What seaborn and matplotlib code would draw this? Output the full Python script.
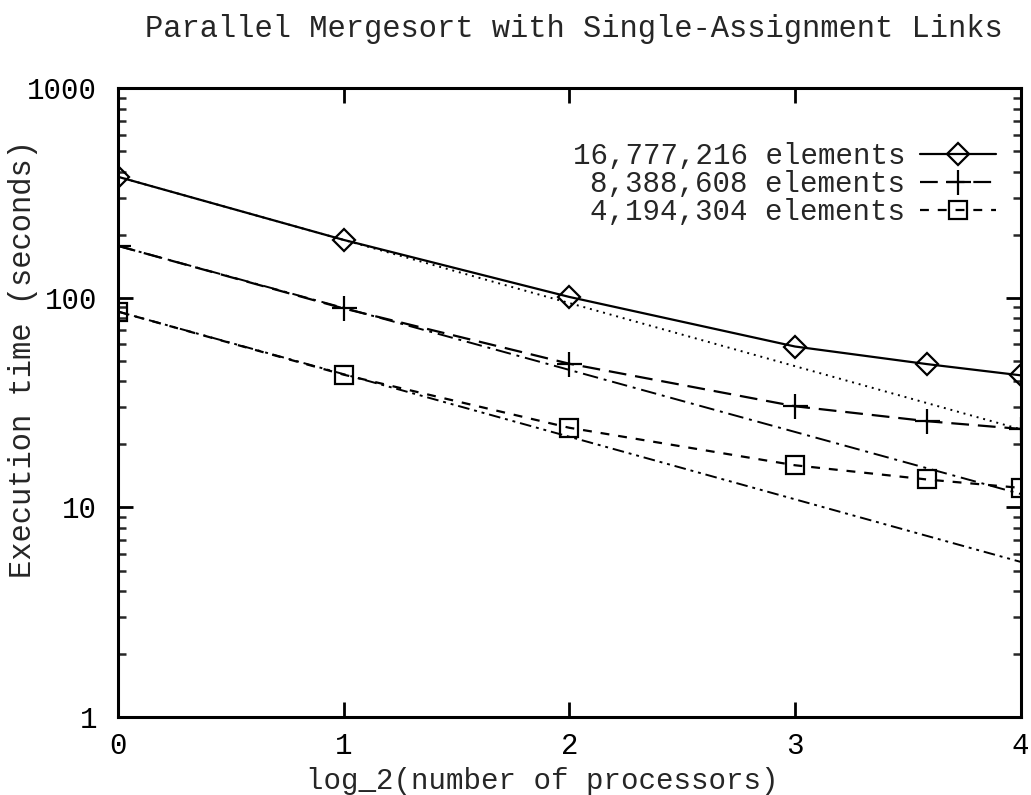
import matplotlib
matplotlib.use("Agg")
import matplotlib.pyplot as plt
from matplotlib.ticker import LogLocator, NullFormatter, FixedLocator
import seaborn as sns

# Measured execution times (seconds) against log2 of processor count
log2_procs = [0, 1, 2, 3, 3.585, 4]
time_16m = [378, 189, 101, 58.6, 48.3, 42.7]
time_8m = [177, 89, 48.5, 30.4, 25.8, 23.7]
time_4m = [86, 43, 24, 15.9, 13.6, 12.4]
series_labels = ["16,777,216 elements", "8,388,608 elements", "4,194,304 elements"]

# Ideal linear-speedup reference lines (end points at log2 = 0 and 4)
ideal_x = [0, 4]
ideal_16m = [378, 23.6]
ideal_8m = [177, 11.6]
ideal_4m = [86, 5.5]

y_ticks = [1, 10, 100, 1000]
x_ticks = [0, 1, 2, 3, 4]

sns.set_style("ticks")
plt.rcParams["font.family"] = ["Liberation Mono", "DejaVu Sans Mono"]
plt.rcParams["font.size"] = 21

fig = plt.figure(figsize=(10.31, 7.95), dpi=100)
ax = fig.add_axes([0.1145, 0.098, 0.8755, 0.791])

common = dict(color="black", linewidth=1.6, markerfacecolor="none",
              markeredgecolor="black", markeredgewidth=1.6, ax=ax)

sns.lineplot(x=log2_procs, y=time_16m, marker="D", markersize=11,
             linestyle="-", label=series_labels[0], **common)
sns.lineplot(x=log2_procs, y=time_8m, marker="+", markersize=18,
             linestyle=(0, (8, 4)), label=series_labels[1], **common)
sns.lineplot(x=log2_procs, y=time_4m, marker="s", markersize=13,
             linestyle=(0, (4, 4)), label=series_labels[2], **common)

ideal_kw = dict(color="black", linewidth=1.4, ax=ax, legend=False)
sns.lineplot(x=ideal_x, y=ideal_16m, linestyle=(0, (1, 2.5)), **ideal_kw)
sns.lineplot(x=ideal_x, y=ideal_8m, linestyle=(0, (8, 3, 1.5, 3)), **ideal_kw)
sns.lineplot(x=ideal_x, y=ideal_4m, linestyle=(0, (6, 2.5, 1.5, 2.5, 1.5, 2.5)), **ideal_kw)

ax.set_yscale("log")
ax.set_xlim(0, 4)
ax.set_ylim(1, 1000)
ax.xaxis.set_major_locator(FixedLocator(x_ticks))
ax.set_xticklabels([str(v) for v in x_ticks])
ax.yaxis.set_major_locator(FixedLocator(y_ticks))
ax.set_yticklabels([str(v) for v in y_ticks])
ax.yaxis.set_minor_locator(LogLocator(base=10, subs=range(2, 10)))
ax.yaxis.set_minor_formatter(NullFormatter())

ax.tick_params(axis="both", which="major", direction="in", length=11, width=2,
               top=True, right=True, labelsize=21, colors="black")
ax.tick_params(axis="y", which="major", pad=15)
ax.tick_params(axis="x", which="major", pad=11)
ax.tick_params(axis="y", which="minor", direction="in", length=6, width=1.8,
               left=True, right=True)
for side in ax.spines.values():
    side.set_linewidth(2.2)
    side.set_color("black")
    side.set_visible(True)

ax.set_xlabel("log_2(number of processors)", fontsize=21)
ax.xaxis.set_label_coords(0.47, -0.102)
ax.xaxis.label.set_va("center")
ax.set_ylabel("Execution time (seconds)", fontsize=22)
ax.yaxis.set_label_coords(-0.105, 0.569)
ax.yaxis.label.set_va("center")
ax.set_title("Parallel Mergesort with Single-Assignment Links", fontsize=22,
             x=0.505, y=1.0, pad=37)

leg = ax.legend(loc="upper right", markerfirst=False, frameon=False, fontsize=21,
                handlelength=2.6, handletextpad=0.5, labelspacing=0.0,
                borderaxespad=0.3, bbox_to_anchor=(0.995, 0.947))
for t in leg.get_texts():
    t.set_ha("right")
leg._legend_box.align = "right"

fig.savefig("out.png", dpi=100, facecolor="white")
